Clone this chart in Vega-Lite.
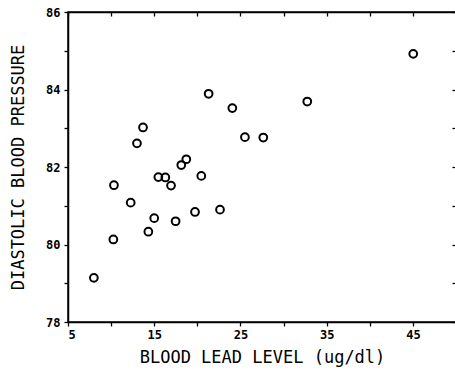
{
  "$schema": "https://vega.github.io/schema/vega-lite/v6.json",
  "width": 388,
  "height": 310,
  "autosize": "none",
  "padding": {"left": 68, "top": 12, "right": 0, "bottom": 51},
  "background": "white",
  "config": {
    "view": {"stroke": "black", "strokeWidth": 1.5},
    "axis": {
      "grid": false,
      "domain": true,
      "domainColor": "black",
      "domainWidth": 1.5,
      "tickColor": "black",
      "tickWidth": 1.3,
      "labelFont": "DejaVu Sans Mono",
      "labelFontSize": 12,
      "labelFontWeight": "bold",
      "labelColor": "black",
      "titleFont": "DejaVu Sans Mono",
      "titleFontSize": 17,
      "titleFontWeight": "normal",
      "titleColor": "black"
    }
  },
  "data": {
    "values": [
      {"lead": 8.0, "dbp": 79.14},
      {"lead": 10.26, "dbp": 80.13},
      {"lead": 10.33, "dbp": 81.53},
      {"lead": 12.27, "dbp": 81.08},
      {"lead": 13.0, "dbp": 82.61},
      {"lead": 13.7, "dbp": 83.02},
      {"lead": 14.32, "dbp": 80.33},
      {"lead": 15.0, "dbp": 80.68},
      {"lead": 15.48, "dbp": 81.74},
      {"lead": 16.29, "dbp": 81.73},
      {"lead": 16.95, "dbp": 81.52},
      {"lead": 17.48, "dbp": 80.6},
      {"lead": 18.14, "dbp": 82.05},
      {"lead": 18.72, "dbp": 82.2},
      {"lead": 19.73, "dbp": 80.84},
      {"lead": 20.46, "dbp": 81.77},
      {"lead": 21.31, "dbp": 83.89},
      {"lead": 22.63, "dbp": 80.9},
      {"lead": 24.06, "dbp": 83.52},
      {"lead": 25.52, "dbp": 82.77},
      {"lead": 27.65, "dbp": 82.76},
      {"lead": 32.75, "dbp": 83.69},
      {"lead": 45.04, "dbp": 84.92}
    ]
  },
  "layer": [
    {
      "mark": {"type": "point", "shape": "circle", "filled": false, "color": "black", "size": 60, "strokeWidth": 2, "opacity": 1},
      "encoding": {
        "x": {
          "field": "lead", "type": "quantitative",
          "scale": {"domain": [5, 50], "nice": false, "zero": false},
          "axis": {
            "title": "BLOOD LEAD LEVEL (ug/dl)",
            "values": [5, 10, 15, 20, 25, 30, 35, 40, 45, 50],
            "labelExpr": "(datum.value - 5) % 10 == 0 && datum.value < 50 ? datum.label : ''",
            "tickSize": 4,
            "labelPadding": 3,
            "titlePadding": 9
          }
        },
        "y": {
          "field": "dbp", "type": "quantitative",
          "scale": {"domain": [78, 86], "nice": false, "zero": false},
          "axis": {
            "title": "DIASTOLIC BLOOD PRESSURE",
            "values": [78, 79, 80, 81, 82, 83, 84, 85, 86],
            "labelExpr": "datum.value % 2 == 0 ? datum.label : ''",
            "tickSize": 4,
            "labelPadding": 4,
            "titlePadding": 18
          }
        }
      }
    },
    {
      "mark": {"type": "point", "opacity": 0},
      "encoding": {
        "x": {
          "field": "lead", "type": "quantitative",
          "axis": {"orient": "top", "title": null, "labels": false, "values": [5, 10, 15, 20, 25, 30, 35, 40, 45, 50], "tickSize": -4}
        },
        "y": {
          "field": "dbp", "type": "quantitative",
          "axis": {"orient": "right", "title": null, "labels": false, "values": [78, 79, 80, 81, 82, 83, 84, 85, 86], "tickSize": -4}
        }
      }
    }
  ],
  "resolve": {"axis": {"x": "independent", "y": "independent"}}
}
